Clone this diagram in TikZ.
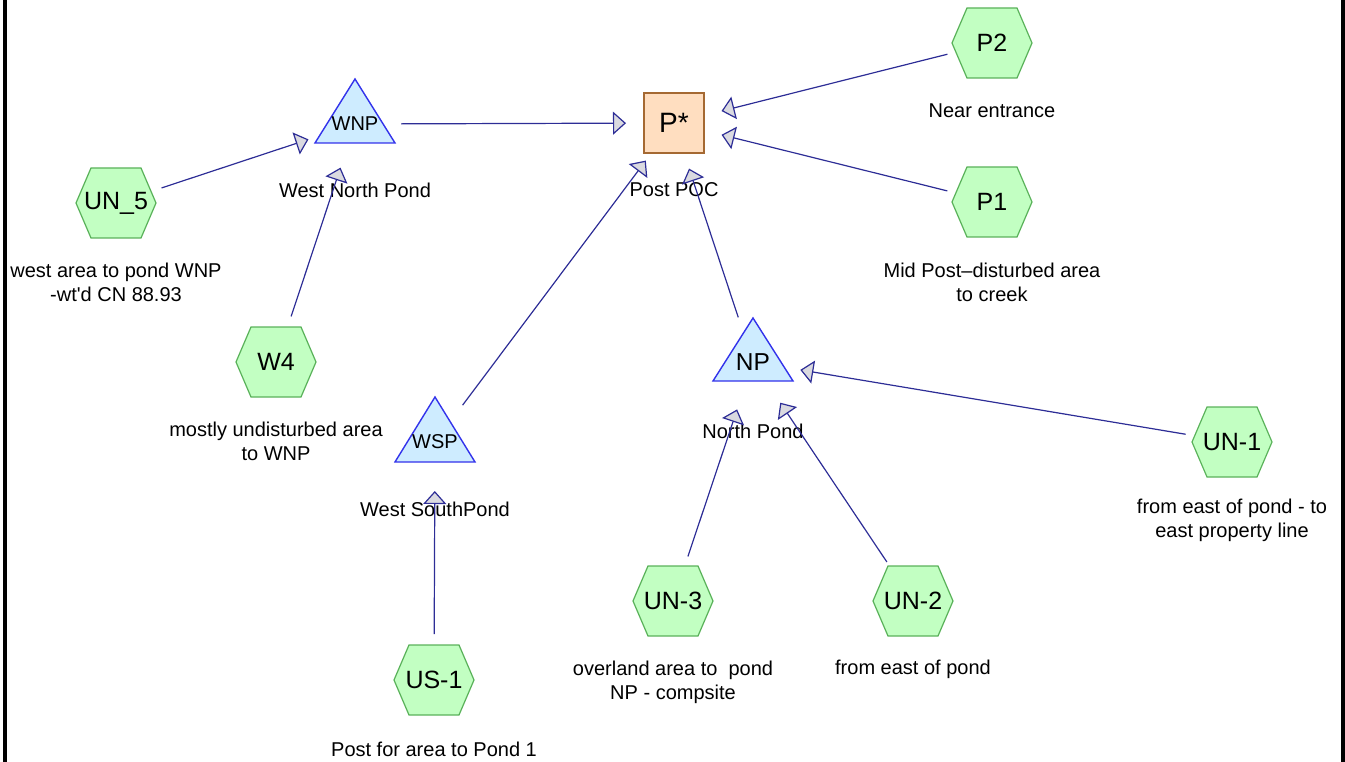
\documentclass[tikz,border=0pt]{standalone}
\usepackage{fontspec}
\setmainfont{Liberation Sans}[Ligatures=TeXOff]
\usetikzlibrary{arrows.meta}
\definecolor{hexfill}{RGB}{194,255,194}
\definecolor{hexline}{RGB}{90,178,90}
\definecolor{trifill}{RGB}{206,236,255}
\definecolor{triline}{RGB}{50,50,235}
\definecolor{boxfill}{RGB}{255,222,192}
\definecolor{boxline}{RGB}{165,105,50}
\definecolor{connc}{RGB}{45,45,150}
\definecolor{tipfill}{RGB}{218,218,224}
\tikzset{
  hexshape/.style={fill=hexfill, draw=hexline, line width=1.2pt},
  trishape/.style={fill=trifill, draw=triline, line width=1.4pt},
  hexlabel/.style={font=\fontsize{25}{28}\selectfont, inner sep=0pt},
  desc/.style={font=\fontsize{20}{24}\selectfont, align=center, inner sep=0pt},
  flow/.style={draw=connc, line width=1.2pt, shorten <=47pt, shorten >=48pt,
    -{Triangle[length=13pt, width=23pt, fill=tipfill]}},
}
\newcommand\myhex[4]{%
  \filldraw[hexshape] (#2-40,#3) -- (#2-25,#3-35) -- (#2+25,#3-35) -- (#2+40,#3)
    -- (#2+25,#3+35) -- (#2-25,#3+35) -- cycle;
  \node[hexlabel] (#1) at (#2,#3) {#4};}
\newcommand\mytri[6]{%
  \filldraw[trishape] (#2-40,#4) -- (#2,#3) -- (#2+40,#4) -- cycle;
  \node[font=\fontsize{#6}{#6}\selectfont, inner sep=0pt] (#1) at (#2,#5) {#1};}
\begin{document}
\begin{tikzpicture}[x=1pt, y=-1pt]
\useasboundingbox (0,0) rectangle (1345,762);
\draw[line width=4pt] (5,0) -- (5,762);
\draw[line width=4pt] (1343,0) -- (1343,762);

% hexagons
\myhex{UN5}{116}{203}{UN\_5}
\myhex{P2}{992}{43}{P2}
\myhex{P1}{992}{202}{P1}
\myhex{W4}{276}{362}{W4}
\myhex{US1}{434}{680}{US-1}
\myhex{UN3}{673}{601}{UN-3}
\myhex{UN2}{913}{601}{UN-2}
\myhex{UN1}{1232}{442}{UN-1}

% triangles
\mytri{WNP}{355}{79}{143}{124}{20}
\mytri{WSP}{435}{397}{462}{442}{20}
\mytri{NP}{753}{318}{381}{362}{24.5}

% box
\node[draw=boxline, fill=boxfill, line width=1.2pt, minimum size=60pt, inner sep=0pt,
  font=\fontsize{28}{28}\selectfont] (P) at (674,123) {P*};

% descriptions
\node[desc] (UN5l) at (116,282) {west area to pond WNP\\-wt'd CN 88.93};
\node[desc] (WNPl) at (355,190) {West North Pond};
\node[desc] (Pl) at (674,190) {Post POC};
\node[desc] (P2l) at (992,111) {Near entrance};
\node[desc] (P1l) at (992,282) {Mid Post\textendash disturbed area\\to creek};
\node[desc] (W4l) at (276,441) {mostly undisturbed area\\to WNP};
\node[desc] (WSPl) at (435,509) {West SouthPond};
\node[desc] (NPl) at (753,431) {North Pond};
\node[desc] (US1l) at (434,749) {Post for area to Pond 1};
\node[desc] (UN3l) at (673,682) {overland area to\ \ pond\\NP - compsite};
\node[desc] (UN2l) at (913,669) {from east of pond};
\node[desc] (UN1l) at (1232,520) {from east of pond - to\\east property line};

% connectors
\draw[flow, shorten <=48pt, shorten >=49pt] (UN5.center) -- (WNP.center);
\draw[flow, shorten <=48pt, shorten >=46pt] (W4.center) -- (WNP.center);
\draw[flow, shorten <=46pt] (WNP.center) -- (P.center);
\draw[flow, shorten <=46pt, shorten >=47pt] (WSP.center) -- (P.center);
\draw[flow] (NP.center) -- (P.center);
\draw[flow, shorten <=46pt, shorten >=49pt] (P2.center) -- (P.center);
\draw[flow, shorten <=46pt, shorten >=49pt] (P1.center) -- (P.center);
\draw[flow, shorten <=46pt, shorten >=49pt] (US1.center) -- (WSP.center);
\draw[flow, shorten >=50pt] (UN3.center) -- (NP.center);
\draw[flow, shorten >=49pt] (UN2.center) -- (NP.center);
\draw[flow] (UN1.center) -- (NP.center);
\end{tikzpicture}
\end{document}
